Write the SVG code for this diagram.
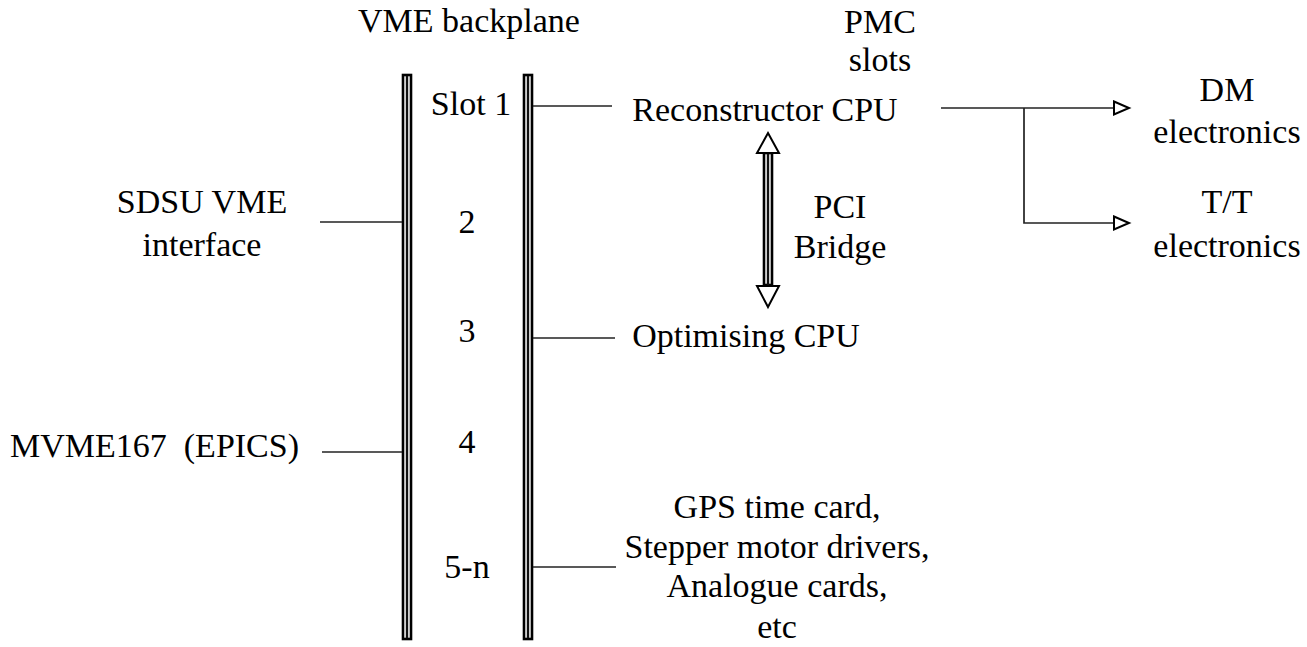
<svg xmlns="http://www.w3.org/2000/svg" width="1307" height="647" viewBox="0 0 1307 647">
<defs>
<style>
text{font-family:'Liberation Serif','Times New Roman','DejaVu Serif',serif;font-size:34px;fill:#000;text-anchor:middle;white-space:pre}
.ln{stroke:#222;stroke-width:1.7;fill:none}
.bar{fill:#fff;stroke:#000;stroke-width:2.6}
.mid{stroke:#111;stroke-width:2.4}
.head{fill:#fff;stroke:#000;stroke-width:2;stroke-linejoin:miter}
</style>
<marker id="arr" markerUnits="userSpaceOnUse" markerWidth="20" markerHeight="18" refX="16" refY="8" orient="auto">
<path d="M1,1.5 L16,8 L1,14.5 Z" fill="#fff" stroke="#000" stroke-width="2"/>
</marker>
</defs>
<rect width="1307" height="647" fill="#fff"/>

<g id="backplane">
<text x="469" y="32">VME backplane</text>
<rect class="bar" x="403" y="75" width="8" height="564"/>
<line class="mid" x1="407" y1="76" x2="407" y2="638"/>
<rect class="bar" x="524" y="75" width="8" height="564"/>
<line class="mid" x1="528" y1="76" x2="528" y2="638"/>
<text x="471" y="115">Slot 1</text>
<text x="467" y="233">2</text>
<text x="467" y="342">3</text>
<text x="467" y="453">4</text>
<text x="467" y="578">5-n</text>
</g>

<g id="sdsu">
<text x="202" y="213">SDSU VME</text>
<text x="202" y="256">interface</text>
</g>
<g id="mvme">
<text x="10" y="457" style="text-anchor:start" xml:space="preserve">MVME167  (EPICS)</text>
</g>
<g id="reconstructor">
<text x="765" y="121">Reconstructor CPU</text>
</g>
<g id="optimising">
<text x="746" y="347">Optimising CPU</text>
</g>
<g id="misc">
<text x="777" y="518">GPS time card,</text>
<text x="777" y="558">Stepper motor drivers,</text>
<text x="777" y="597">Analogue cards,</text>
<text x="777" y="638">etc</text>
</g>
<g id="pmc">
<text x="880" y="33">PMC</text>
<text x="880" y="71">slots</text>
</g>
<g id="dm">
<text x="1227" y="101">DM</text>
<text x="1227" y="143">electronics</text>
</g>
<g id="tt">
<text x="1227" y="213">T/T</text>
<text x="1227" y="257">electronics</text>
</g>
<g id="pci">
<text x="840" y="218">PCI</text>
<text x="840" y="258">Bridge</text>
</g>

<g id="connectors">
<line class="ln" x1="533" y1="106" x2="612" y2="106"/>
<line class="ln" x1="533" y1="338" x2="615" y2="338"/>
<line class="ln" x1="533" y1="567" x2="616" y2="567"/>
<line class="ln" x1="320" y1="222" x2="402" y2="222"/>
<line class="ln" x1="322" y1="452" x2="402" y2="452"/>
<line class="ln" x1="941" y1="108" x2="1024" y2="108"/>
<polyline class="ln" points="1024,108 1024,223 1129,223" marker-end="url(#arr)"/>
<line class="ln" x1="1024" y1="108" x2="1129" y2="108" marker-end="url(#arr)"/>
<rect class="bar" x="764" y="153" width="8" height="132"/>
<line class="mid" x1="768" y1="153" x2="768" y2="285"/>
<path class="head" d="M768,133 L779,153 L757,153 Z"/>
<path class="head" d="M768,307 L779,286 L757,286 Z"/>
</g>
</svg>
